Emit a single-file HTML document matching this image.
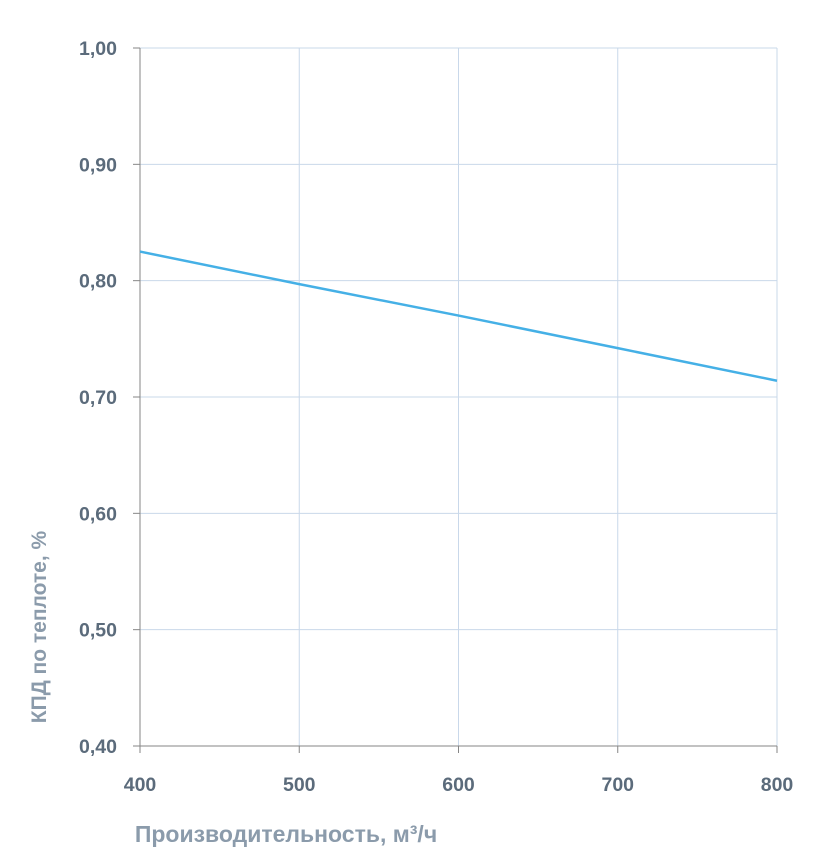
<!DOCTYPE html>
<html><head><meta charset="utf-8"><style>
html,body{margin:0;padding:0;background:#fff;}
svg{display:block;font-family:"Liberation Sans","DejaVu Sans",sans-serif;font-weight:bold;}
</style></head><body>
<svg id="chart" width="828" height="865" viewBox="0 0 828 865" xmlns="http://www.w3.org/2000/svg">
<g id="grid"></g>
<g id="axes"></g>
<g id="series"></g>
<text x="286" y="842" text-anchor="middle" font-size="23" fill="#8b9bab">Производительность, м³/ч</text>
<text transform="translate(46,627) rotate(-90)" text-anchor="middle" font-size="21" fill="#8b9bab">КПД по теплоте, %</text>
</svg>
<script>
const xTicks=[400,500,600,700,800];
const yTicks=[0.4,0.5,0.6,0.7,0.8,0.9,1.0];
const yTickLabels=["0,40","0,50","0,60","0,70","0,80","0,90","1,00"];
const xValues=[400,500,600,700,800];
const efficiency=[0.825,0.797,0.770,0.742,0.714];
const X0=140,X1=777,Y0=746,Y1=48;
const sx=v=>X0+(v-400)/(800-400)*(X1-X0);
const sy=v=>Y0-(v-0.4)/(1.0-0.4)*(Y0-Y1);
const NS="http://www.w3.org/2000/svg";
function mk(tag,attrs,parent,text){const e=document.createElementNS(NS,tag);for(const k in attrs)e.setAttribute(k,attrs[k]);if(text!==undefined)e.textContent=text;parent.appendChild(e);return e;}
const grid=document.getElementById('grid'),axes=document.getElementById('axes'),series=document.getElementById('series');
yTicks.forEach((t,i)=>{
  const y=sy(t);
  if(i>0){const l=mk('line',{x1:X0,x2:X1,y1:y,y2:y,stroke:'#c9d8ea','stroke-width':1},grid);
  
  }
  const tk=mk('line',{x1:X0-7,x2:X0,y1:y,y2:y,stroke:'#868686','stroke-width':1},axes);
  
  
  const tx=mk('text',{x:117,y:y+7,'text-anchor':'end','font-size':19.5,fill:'#5b6b7b'},axes,yTickLabels[i]);
  
  
});
xTicks.forEach((t,i)=>{
  const x=sx(t);
  if(i>0){const l=mk('line',{x1:x,x2:x,y1:Y1,y2:Y0,stroke:'#c9d8ea','stroke-width':1},grid);
  
  }
  const tk=mk('line',{x1:x,x2:x,y1:Y0,y2:Y0+7,stroke:'#868686','stroke-width':1},axes);
  
  
  const tx=mk('text',{x:x,y:791,'text-anchor':'middle','font-size':19.5,fill:'#5b6b7b'},axes,String(t));
  
  
});
const ya=mk('line',{x1:X0,x2:X0,y1:Y1,y2:Y0,stroke:'#868686','stroke-width':1},axes);


const xa=mk('line',{x1:X0,x2:X1,y1:Y0,y2:Y0,stroke:'#868686','stroke-width':1},axes);


const pts=xValues.map((v,i)=>sx(v)+','+sy(efficiency[i])).join(' ');
const pl=mk('polyline',{points:pts,fill:'none',stroke:'#45b0e6','stroke-width':2.5},series);


</script>
</body></html>
